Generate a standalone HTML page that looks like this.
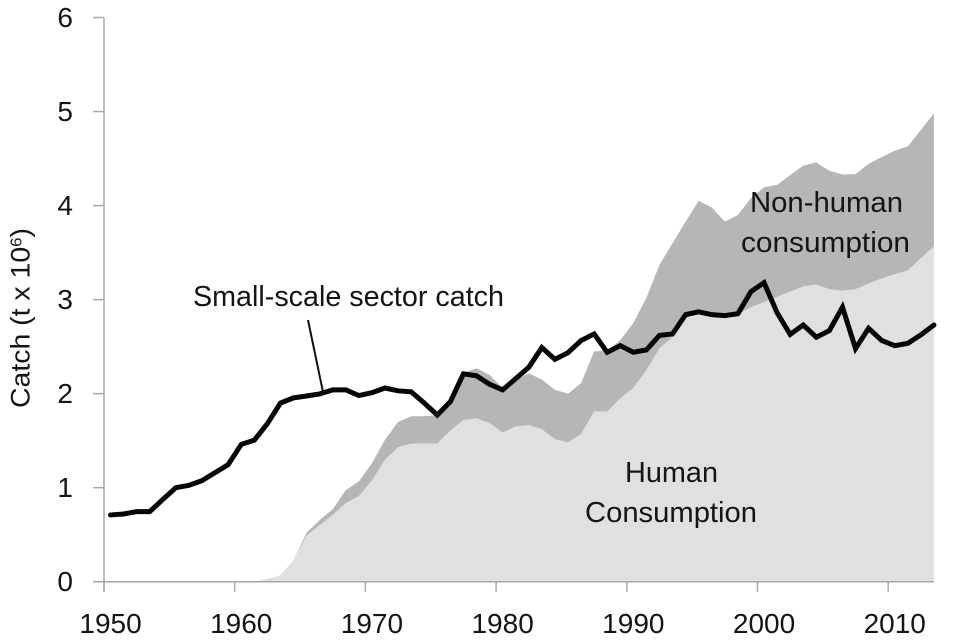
<!DOCTYPE html>
<html>
<head>
<meta charset="utf-8">
<title>Small-scale sector catch</title>
<style>
html,body{margin:0;padding:0;background:#fff;}
svg{display:block;}
text{font-family:"Liberation Sans",sans-serif;fill:#141414;}
</style>
</head>
<body>
<svg id="chart" xmlns="http://www.w3.org/2000/svg" width="957" height="642" viewBox="0 0 957 642">
<rect x="0" y="0" width="957" height="642" fill="#ffffff"/>
<g id="areas"></g>
<g id="axes"></g>
<line x1="308" y1="320" x2="323" y2="392" stroke="#111" stroke-width="2"/>
<g id="lines"></g>
<text transform="translate(29.5,408) rotate(-90)" font-size="27" textLength="180" lengthAdjust="spacingAndGlyphs">Catch (t x 10<tspan dy="-8" font-size="16">6</tspan><tspan dy="8">)</tspan></text>
<text x="193" y="306" font-size="29" textLength="311" lengthAdjust="spacingAndGlyphs">Small-scale sector catch</text>
<text x="750" y="212" font-size="29" textLength="153" lengthAdjust="spacingAndGlyphs">Non-human</text>
<text x="741" y="252" font-size="29" textLength="169" lengthAdjust="spacingAndGlyphs">consumption</text>
<text x="625" y="482" font-size="29" textLength="93" lengthAdjust="spacingAndGlyphs">Human</text>
<text x="585" y="522" font-size="29" textLength="172" lengthAdjust="spacingAndGlyphs">Consumption</text>
</svg>
<script>
const years = [1950,1951,1952,1953,1954,1955,1956,1957,1958,1959,1960,1961,1962,1963,1964,1965,1966,1967,1968,1969,1970,1971,1972,1973,1974,1975,1976,1977,1978,1979,1980,1981,1982,1983,1984,1985,1986,1987,1988,1989,1990,1991,1992,1993,1994,1995,1996,1997,1998,1999,2000,2001,2002,2003,2004,2005,2006,2007,2008,2009,2010,2011,2012,2013];
const humanConsumption = [0,0,0,0,0,0,0,0,0,0,0,0,0.03,0.07,0.23,0.49,0.6,0.71,0.835,0.91,1.075,1.295,1.43,1.47,1.47,1.47,1.605,1.72,1.735,1.685,1.585,1.65,1.665,1.62,1.515,1.48,1.57,1.81,1.81,1.95,2.06,2.25,2.48,2.6,2.8,2.87,2.83,2.8,2.84,2.92,2.97,3.03,3.085,3.14,3.16,3.11,3.095,3.11,3.17,3.225,3.27,3.31,3.44,3.565];
const nonHumanConsumption = [0,0,0,0,0,0,0,0,0,0,0,0,0,0,0,0.03,0.055,0.06,0.14,0.155,0.185,0.215,0.27,0.29,0.29,0.3,0.325,0.5,0.535,0.515,0.475,0.495,0.55,0.53,0.525,0.52,0.54,0.64,0.645,0.62,0.69,0.77,0.89,1,1.03,1.18,1.15,1.03,1.06,1.16,1.225,1.19,1.24,1.285,1.3,1.26,1.235,1.225,1.275,1.29,1.315,1.32,1.365,1.415];
const smallScaleCatch = [0.71,0.72,0.745,0.745,0.875,1,1.025,1.075,1.16,1.245,1.46,1.505,1.68,1.9,1.955,1.975,1.997,2.04,2.04,1.98,2.01,2.06,2.03,2.02,1.9,1.773,1.915,2.21,2.19,2.1,2.04,2.16,2.28,2.49,2.365,2.435,2.565,2.635,2.44,2.51,2.44,2.465,2.62,2.635,2.84,2.87,2.84,2.83,2.85,3.085,3.18,2.86,2.63,2.73,2.6,2.67,2.92,2.48,2.695,2.565,2.51,2.535,2.625,2.73];
const yTickLabels = [0,1,2,3,4,5,6];
const xTickLabels = [1950,1960,1970,1980,1990,2000,2010];

const NS = 'http://www.w3.org/2000/svg';
const xLeft = 104, yZero = 581.7, yUnit = 94.03, catWidth = 13.07;
function xCenter(year){ return xLeft + (year - years[0] + 0.5) * catWidth; }
function xEdge(year){ return xLeft + (year - years[0]) * catWidth; }
function yPos(v){ return yZero - v * yUnit; }
function mk(tag, attrs, parent){
  const el = document.createElementNS(NS, tag);
  for (const k in attrs) el.setAttribute(k, attrs[k]);
  parent.appendChild(el);
  return el;
}
const areas = document.getElementById('areas');
const axes = document.getElementById('axes');
const lines = document.getElementById('lines');

const stackedTop = humanConsumption.map((v, i) => v + nonHumanConsumption[i]);
function areaPath(top, bottom){
  let d = '';
  top.forEach((v, i) => { d += (i ? 'L' : 'M') + xCenter(years[i]).toFixed(2) + ' ' + yPos(v).toFixed(2); });
  for (let i = top.length - 1; i >= 0; i--) {
    d += 'L' + xCenter(years[i]).toFixed(2) + ' ' + yPos(bottom ? bottom[i] : 0).toFixed(2);
  }
  return d + 'Z';
}
const nonHumanArea = mk('path', {d: areaPath(stackedTop, humanConsumption), fill: '#b6b6b6'}, areas);


const humanArea = mk('path', {d: areaPath(humanConsumption, null), fill: '#e0e0e0'}, areas);



const axisColor = '#a8a8a8';
const yAxisLine = mk('line', {x1: xLeft, y1: yPos(6), x2: xLeft, y2: yZero + 10, stroke: axisColor, 'stroke-width': 1.5}, axes);


const xAxisLine = mk('line', {x1: xLeft - 11, y1: yZero, x2: xCenter(years[years.length - 1]), y2: yZero, stroke: axisColor, 'stroke-width': 1.5}, axes);



yTickLabels.forEach(v => {
  const tick = mk('line', {x1: xLeft - 11, y1: yPos(v), x2: xLeft, y2: yPos(v), stroke: axisColor, 'stroke-width': 1.5}, axes);
  
  
  const label = mk('text', {x: 73, y: yPos(v) + 9.5, 'font-size': 28, 'text-anchor': 'end'}, axes);
  
  
  label.textContent = v;
});
xTickLabels.forEach(v => {
  const tick = mk('line', {x1: xEdge(v), y1: yZero, x2: xEdge(v), y2: yZero + 10, stroke: axisColor, 'stroke-width': 1.5}, axes);
  
  
  const label = mk('text', {x: xCenter(v), y: 633, 'font-size': 28, 'text-anchor': 'middle'}, axes);
  
  
  label.textContent = v;
});

const catchLine = mk('polyline', {
  points: smallScaleCatch.map((v, i) => xCenter(years[i]).toFixed(2) + ',' + yPos(v).toFixed(2)).join(' '),
  fill: 'none', stroke: '#050505', 'stroke-width': 5, 'stroke-linejoin': 'miter', 'stroke-linecap': 'round'
}, lines);


</script>
</body>
</html>
